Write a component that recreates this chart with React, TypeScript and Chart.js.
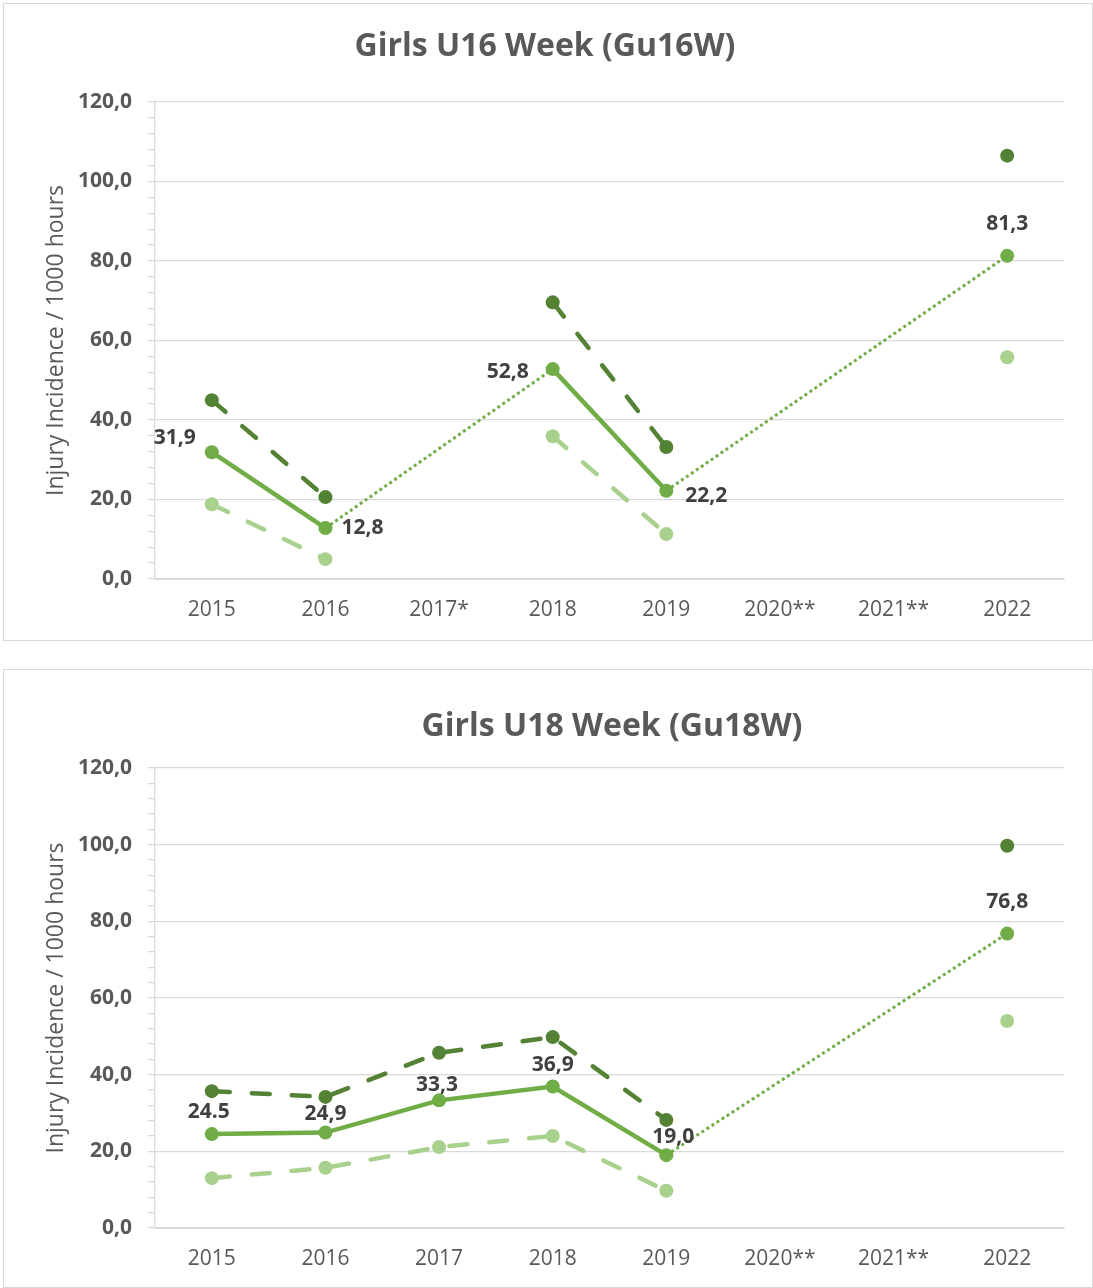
import React, { useEffect, useRef } from 'react';
import { Chart, registerables } from 'chart.js';
Chart.register(...registerables);

// ---------- data ----------
const u16Categories = ['2015', '2016', '2017*', '2018', '2019', '2020**', '2021**', '2022'];
const u16Upper = [45.0, 20.6, null, 69.6, 33.2, null, null, 106.5];
const u16Rate = [31.9, 12.8, null, 52.8, 22.2, null, null, 81.3];
const u16Lower = [18.8, 5.0, null, 35.9, 11.3, null, null, 55.8];
const u16RateLabels = ['31,9', '12,8', '', '52,8', '22,2', '', '', '81,3'];

const u18Categories = ['2015', '2016', '2017', '2018', '2019', '2020**', '2021**', '2022'];
const u18Upper = [35.7, 34.2, 45.7, 49.8, 28.2, null, null, 99.7];
const u18Rate = [24.5, 24.9, 33.3, 36.9, 19.0, null, null, 76.8];
const u18Lower = [13.0, 15.7, 21.1, 24.0, 9.7, null, null, 54.0];
const u18RateLabels = ['24.5', '24,9', '33,3', '36,9', '19,0', '', '', '76,8'];

const yMin = 0;
const yMax = 120;
const yMajorStep = 20;
const yMinorStep = 4;
const yAxisTitle = 'Injury Incidence / 1000 hours';

// ---------- styling (label placement relative to the point, in px) ----------
const u16LabelOffsets: [number, number][] = [[-37, -14], [37, 0], [0, 0], [-45, 3], [40, 5], [0, 0], [0, 0], [0, -32]];
const u18LabelOffsets: [number, number][] = [[-3, -22], [0, -19], [-2, -15], [0, -22], [7, -18], [0, 0], [0, 0], [0, -32]];

const FONT = '"Open Sans", Lato, sans-serif';
const DARK = '#548235';
const MID = '#70ad47';
const LIGHT = '#a9d18e';
const GRID = '#d9d9d9';
const TEXT = '#595959';
const LABEL = '#404040';

interface Props {
  categories: string[];
  upper: (number | null)[];
  rate: (number | null)[];
  lower: (number | null)[];
  rateLabels: string[];
  labelOffsets: [number, number][];
  title: string;
  titleX: number;
  titleY: number;
  width: number;
  height: number;
  top: number;
  bottom: number;
  left: number;
  right: number;
}

function ChartBox(p: Props) {
  const ref = useRef<HTMLCanvasElement | null>(null);
  useEffect(() => {
    if (!ref.current) return;
    const titlePlugin = {
      id: 'customTitle',
      afterDraw(chart: any) {
        const ctx = chart.ctx;
        ctx.save();
        ctx.font = `bold 32px ${FONT}`;
        ctx.fillStyle = TEXT;
        ctx.textAlign = 'center';
        ctx.textBaseline = 'middle';
        ctx.fillText(p.title, p.titleX, p.titleY);
        ctx.restore();
      },
    };
    const labelPlugin = {
      id: 'rateLabels',
      afterDatasetsDraw(chart: any) {
        const meta = chart.getDatasetMeta(1);
        const ctx = chart.ctx;
        ctx.save();
        ctx.font = `bold 21px ${FONT}`;
        ctx.fillStyle = LABEL;
        ctx.textAlign = 'center';
        ctx.textBaseline = 'middle';
        meta.data.forEach((pt: any, i: number) => {
          const t = p.rateLabels[i];
          if (!t || p.rate[i] == null) return;
          const [dx, dy] = p.labelOffsets[i];
          ctx.fillText(t, pt.x + dx, pt.y + dy);
        });
        ctx.restore();
      },
    };
    const isGap = (ctx: any) => ctx.p0.skip || ctx.p1.skip || ctx.p1DataIndex - ctx.p0DataIndex > 1;
    const gapDash = (ctx: any) => (isGap(ctx) ? [3, 3] : undefined);
    const gapWidth = (ctx: any) => (isGap(ctx) ? 3 : undefined);
    const gapCap = (ctx: any) => (isGap(ctx) ? 'butt' : undefined);

    const chart = new Chart(ref.current, {
      type: 'line',
      data: {
        labels: p.categories,
        datasets: [
          {
            label: 'upper',
            data: p.upper,
            borderColor: DARK,
            backgroundColor: DARK,
            borderWidth: 4.5,
            borderDash: [18, 22],
            borderCapStyle: 'round',
            pointRadius: 7,
            pointBorderWidth: 0,
            pointBackgroundColor: DARK,
            spanGaps: false,
          },
          {
            label: 'rate',
            data: p.rate,
            borderColor: MID,
            backgroundColor: MID,
            borderWidth: 4.5,
            borderCapStyle: 'round',
            pointRadius: 7,
            pointBorderWidth: 0,
            pointBackgroundColor: MID,
            spanGaps: true,
            segment: { borderDash: gapDash, borderWidth: gapWidth, borderCapStyle: gapCap },
          },
          {
            label: 'lower',
            data: p.lower,
            borderColor: LIGHT,
            backgroundColor: LIGHT,
            borderWidth: 4.5,
            borderDash: [18, 22],
            borderCapStyle: 'round',
            pointRadius: 7,
            pointBorderWidth: 0,
            pointBackgroundColor: LIGHT,
            spanGaps: false,
          },
        ] as any,
      },
      options: {
        animation: false,
        responsive: false,
        layout: { padding: { top: p.top, right: p.right, bottom: 0, left: 0 } },
        plugins: {
          legend: { display: false },
          tooltip: { enabled: false },
          title: { display: false },
        },
        scales: {
          x: {
            offset: true,
            grid: { display: false },
            border: { display: true, color: GRID, width: 1 },
            ticks: { color: TEXT, font: { family: FONT, size: 21 }, padding: 10, autoSkip: false, maxRotation: 0 },
            afterFit: (s: any) => { s.height = p.bottom; },
          },
          y: {
            min: yMin,
            max: yMax,
            ticks: {
              stepSize: yMinorStep,
              autoSkip: false,
              color: TEXT,
              padding: 16,
              font: { family: FONT, size: 21, weight: 'bold' },
              callback: (v: any) => (Number(v) % yMajorStep === 0 ? Number(v).toFixed(1).replace('.', ',') : ''),
            },
            grid: {
              color: (c: any) => (c.tick && c.tick.value % yMajorStep === 0 ? GRID : 'rgba(0,0,0,0)'),
              tickColor: GRID,
              tickLength: 7,
              lineWidth: 1.3,
            },
            border: { display: true, color: GRID, width: 1.3 },
            title: {
              display: true,
              text: yAxisTitle,
              color: TEXT,
              font: { family: FONT, size: 23 },
              padding: { top: 39, bottom: 0 },
            },
            afterFit: (s: any) => { s.width = p.left; },
          },
        },
      } as any,
      plugins: [titlePlugin, labelPlugin],
    });
    return () => chart.destroy();
  }, []);
  return <canvas ref={ref} width={p.width} height={p.height} style={{ display: 'block', width: p.width, height: p.height }} />;
}

export default function App() {
  return (
    <div style={{ position: 'absolute', left: 0, top: 0, width: 1093, height: 1288, overflow: 'hidden', background: '#fff' }}>
      <div style={{ position: 'absolute', left: 3, top: 3, width: 1090, height: 638, border: `1px solid ${GRID}`, boxSizing: 'border-box' }}>
        <ChartBox
          categories={u16Categories}
          upper={u16Upper}
          rate={u16Rate}
          lower={u16Lower}
          rateLabels={u16RateLabels}
          labelOffsets={u16LabelOffsets}
          title="Girls U16 Week (Gu16W)"
          titleX={541}
          titleY={43}
          width={1088}
          height={636}
          top={98}
          bottom={61}
          left={151}
          right={28}
        />
      </div>
      <div style={{ position: 'absolute', left: 3, top: 669, width: 1090, height: 619, border: `1px solid ${GRID}`, boxSizing: 'border-box' }}>
        <ChartBox
          categories={u18Categories}
          upper={u18Upper}
          rate={u18Rate}
          lower={u18Lower}
          rateLabels={u18RateLabels}
          labelOffsets={u18LabelOffsets}
          title="Girls U18 Week (Gu18W)"
          titleX={608}
          titleY={57}
          width={1088}
          height={617}
          top={98}
          bottom={59}
          left={151}
          right={28}
        />
      </div>
    </div>
  );
}
